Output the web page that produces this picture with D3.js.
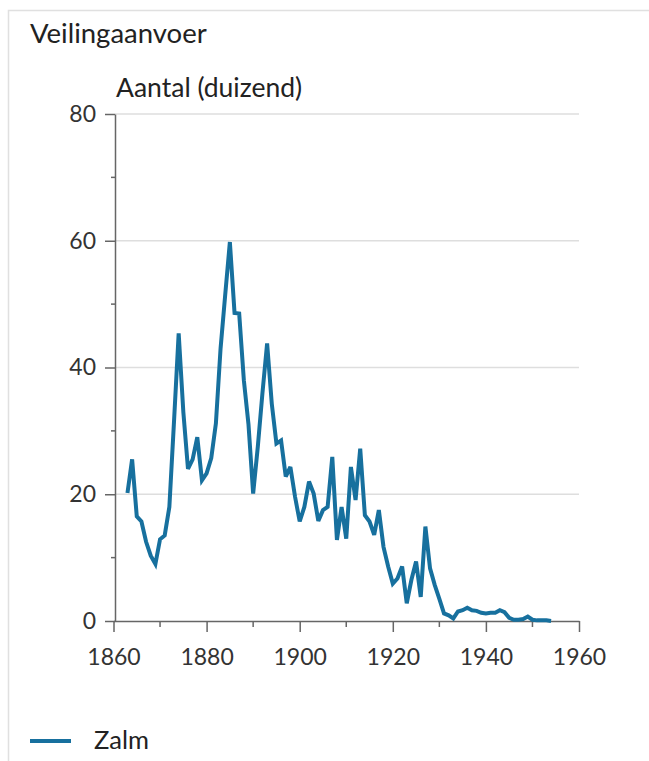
<!DOCTYPE html>
<html>
<head>
<meta charset="utf-8">
<script src="https://cdn.jsdelivr.net/npm/d3@7"></script>
<style>
  body { margin: 0; background: #fff; }
  svg { display: block; font-family: Lato, "Open Sans", sans-serif; }
</style>
</head>
<body>
<svg id="main" width="649" height="761"></svg>
<script>
// zalm aanvoer per jaar (duizend stuks)
const years = d3.range(1863, 1955);
const zalm = [
  20.2, 25.5, 16.5, 15.7, 12.5, 10.3, 9.0, 12.9, 13.5, 18.0,
  31.5, 45.4, 33.0, 24.0, 25.5, 29.0, 22.2, 23.3, 25.7, 31.2,
  43.0, 51.5, 59.8, 48.6, 48.5, 38.0, 31.0, 20.1, 27.5, 36.0,
  43.8, 34.3, 28.0, 28.5, 22.8, 24.3, 19.6, 15.7, 18.0, 22.0,
  20.1, 15.8, 17.5, 18.0, 25.9, 12.8, 18.0, 13.0, 24.3, 19.1,
  27.2, 16.7, 15.7, 13.6, 17.5, 11.7, 8.6, 5.9, 6.7, 8.6,
  2.8, 6.5, 9.4, 3.8, 14.9, 8.3, 5.7, 3.5, 1.2, 0.9,
  0.4, 1.5, 1.7, 2.1, 1.7, 1.6, 1.3, 1.2, 1.3, 1.3,
  1.7, 1.4, 0.5, 0.2, 0.2, 0.3, 0.7, 0.2, 0.1, 0.1,
  0.1, 0.0
];
const yTicks = [0, 20, 40, 60, 80];
const yMinor = [10, 30, 50, 70];
const xTicks = [1860, 1880, 1900, 1920, 1940, 1960];
const xMinor = [1870, 1890, 1910, 1930, 1950];

const size = {
  plot: {left: 115, right: 579, top: 114, bottom: 621}
};
const lineColor = "#17709e";
const axisColor = "#666";
const font = "Lato, \"Open Sans\", sans-serif";

const svg = d3.select("#main");

// kader
svg.append("path")
  .attr("d", "M8.5,761 L8.5,10.5 L649,10.5")
  .attr("fill", "none")
  .attr("stroke", "#e0e0e0")
  .attr("stroke-width", 1.5);

const xScale = d3.scaleLinear([1860, 1960], [size.plot.left - 1.5, size.plot.right]);
const yScale = d3.scaleLinear([0, 80], [size.plot.bottom, size.plot.top]);

svg.append("text")
  .attr("x", 30).attr("y", 43)
  .attr("font-size", 27.5).attr("fill", "#222")
  .text("Veilingaanvoer");

svg.append("text")
  .attr("x", 116).attr("y", 97)
  .attr("font-size", 26.5).attr("fill", "#222")
  .text("Aantal (duizend)");

// gridlijnen
svg.append("g")
  .selectAll("line")
  .data(yTicks.filter(d => d > 0))
  .join("line")
  .attr("x1", size.plot.left).attr("x2", size.plot.right)
  .attr("y1", d => yScale(d)).attr("y2", d => yScale(d))
  .attr("stroke", "#dedede")
  .attr("stroke-width", 1.5);

// y-as
const yAxis = svg.append("g").attr("transform", `translate(${size.plot.left},0)`);
yAxis.call(d3.axisLeft(yScale).tickValues(yTicks).tickSize(10).tickPadding(9).tickSizeOuter(0));
yAxis.select(".domain").attr("stroke", axisColor).attr("stroke-width", 1.5);
yAxis.selectAll(".tick line").attr("stroke", axisColor).attr("stroke-width", 1.5);
yAxis.selectAll("text").attr("font-size", 23).attr("fill", "#333")
  .attr("font-family", font);
yAxis.append("g")
  .selectAll("line")
  .data(yMinor)
  .join("line")
  .attr("x1", -4).attr("x2", 0)
  .attr("y1", d => yScale(d)).attr("y2", d => yScale(d))
  .attr("stroke", axisColor).attr("stroke-width", 1.5);

// x-as
const xAxis = svg.append("g").attr("transform", `translate(0,${size.plot.bottom})`);
xAxis.call(d3.axisBottom(xScale).tickValues(xTicks).tickFormat(d3.format("d")).tickSize(11).tickPadding(17).tickSizeOuter(0));
xAxis.select(".domain").attr("stroke", axisColor).attr("stroke-width", 1.5);
xAxis.selectAll(".tick line").attr("stroke", axisColor).attr("stroke-width", 1.5);
xAxis.selectAll("text").attr("font-size", 23).attr("fill", "#333")
  .attr("font-family", font);
xAxis.append("g")
  .selectAll("line")
  .data(xMinor)
  .join("line")
  .attr("x1", d => xScale(d)).attr("x2", d => xScale(d))
  .attr("y1", 0).attr("y2", 6)
  .attr("stroke", axisColor).attr("stroke-width", 1.5);

// lijn
const line = d3.line()
  .x((d, i) => xScale(years[i]))
  .y(d => yScale(d));

svg.append("path")
  .datum(zalm)
  .attr("d", line)
  .attr("fill", "none")
  .attr("stroke", lineColor)
  .attr("stroke-width", 4)
  .attr("stroke-linejoin", "miter")
  .attr("stroke-miterlimit", 3);

// legenda
svg.append("line")
  .attr("x1", 30).attr("x2", 71)
  .attr("y1", 741).attr("y2", 741)
  .attr("stroke", lineColor).attr("stroke-width", 4);
svg.append("text")
  .attr("x", 94).attr("y", 749)
  .attr("font-size", 25.5).attr("fill", "#222")
  .text("Zalm");
</script>
</body>
</html>
